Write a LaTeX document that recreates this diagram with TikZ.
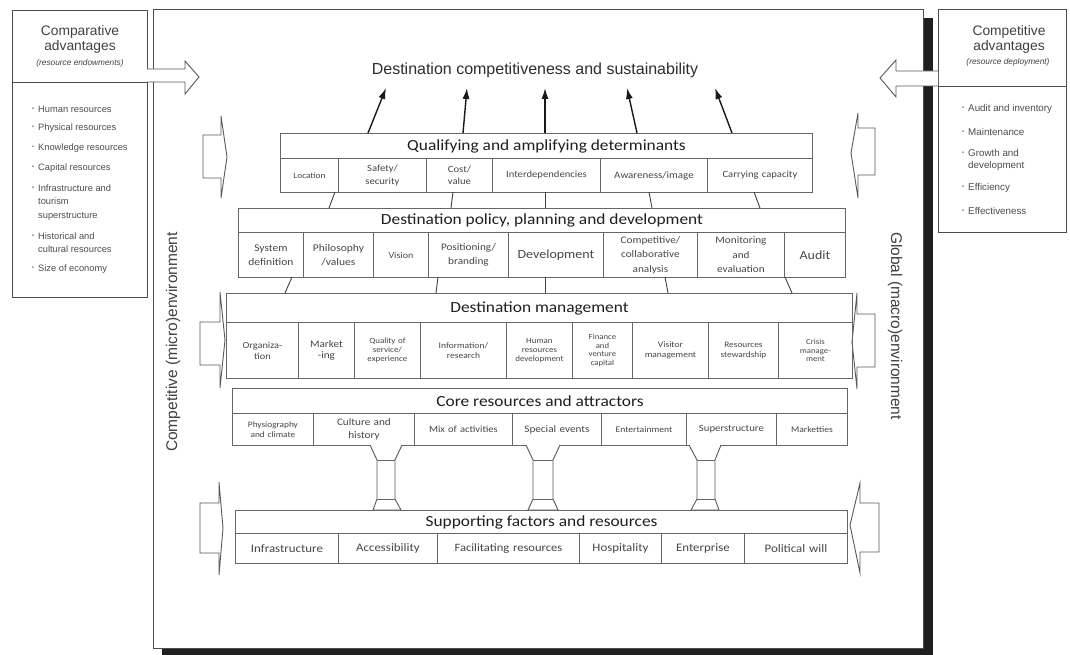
\documentclass[tikz,border=0pt]{standalone}
\usepackage{fontspec}
\usepackage{graphicx}
\setmainfont{Liberation Sans}
\newfontfamily\calfont[FakeStretch=1.12]{Carlito}
\usetikzlibrary{arrows.meta,calc}
\newcommand\fsz[2]{\fontsize{#1}{#2}\selectfont}
\newcommand\bul{\makebox[6pt][l]{\raisebox{0.35ex}{\fontsize{5.5}{5.5}\selectfont •}}}
% name, x0, x1, ytop, ybot, fontsize, baselineskip, text
\newcommand\cellat[8]{%
  \pgfmathsetmacro\cw{#3-#2}%
  \pgfmathsetmacro\ch{#5-#4}%
  \node[cell, minimum width=\cw pt, minimum height=\ch pt, text width=\cw pt,
        font=\calfont\fontsize{#6}{#7}\selectfont] (#1) at (#2,#4) {#8};}
% name, x0, x1, ytop, ybot, text
\newcommand\hdrat[6]{%
  \pgfmathsetmacro\cw{#3-#2}%
  \pgfmathsetmacro\ch{#5-#4}%
  \node[band, minimum width=\cw pt, minimum height=\ch pt] (#1) at (#2,#4) {#6};}
% side arrow: x0 (shaft end), x1 (head base), ys1, ys2, yh1, yh2, tipx, tipy
\newcommand\sidearrow[8]{%
  \draw[side] (#2,#3) -- (#1,#3) -- (#1,#4) -- (#2,#4) -- (#2,#6)
     .. controls ($(#2,#6)!0.5!(#7,#8)$) .. (#7,#8)
     .. controls ($(#2,#5)!0.5!(#7,#8)$) .. (#2,#5) -- cycle;}
\begin{document}
\begin{tikzpicture}[x=1pt,y=-1pt,
  frame/.style={draw=black!70, line width=0.9pt, inner sep=0pt, anchor=north west},
  band/.style={draw=black!60, line width=1pt, fill=white, inner sep=0pt, anchor=north west,
     font=\calfont\fsz{15.5}{17}, text=black!88},
  cell/.style={draw=black!60, line width=0.9pt, inner sep=0pt, anchor=north west,
     align=center, text=black!72},
  link/.style={draw=black!75, line width=0.9pt},
  uparrow/.style={draw=black!90, line width=1.4pt, -{Latex[length=11pt,width=7pt]}},
  side/.style={draw=black!65, line width=0.9pt, fill=white},
  listl/.style={anchor=west, inner sep=0pt, font=\fsz{9.3}{13.3}, text=black!70, align=left},
  listr/.style={anchor=west, inner sep=0pt, font=\fsz{9.8}{12}, text=black!70, align=left},
  outer/.style={text=black!75, inner sep=0pt}
]
\useasboundingbox (0,0) rectangle (1070,655);

% ---- main frame with shadow
\fill[black!88] (924,18) rectangle (933,655);
\fill[black!88] (162,648) rectangle (933,655);
\node[frame, fill=white, minimum width=770pt, minimum height=639pt] (main) at (153,9) {};

% ---- left box
\node[frame, minimum width=135pt, minimum height=287pt] (lbox) at (12,10) {};
\draw[frame] (12,82) -- (147,82);
\node[outer, font=\fsz{13.8}{15}, align=center] (ltitle) at (80,39) {Comparative\\advantages};
\node[outer, font=\itshape\fsz{8.3}{9}] (lsub) at (80,63) {(resource endowments)};
\node[listl] (l1) at (38,109) {\llap{\bul}Human resources};
\node[listl] (l2) at (38,128) {\llap{\bul}Physical resources};
\node[listl] (l3) at (38,148) {\llap{\bul}Knowledge resources};
\node[listl] (l4) at (38,168) {\llap{\bul}Capital resources};
\node[listl] (l5) at (38,202.5) {\llap{\bul}Infrastructure and\\tourism\\superstructure};
\node[listl] (l6) at (38,242.5) {\llap{\bul}Historical and\\cultural resources};
\node[listl] (l7) at (38,269) {\llap{\bul}Size of economy};

% ---- right box
\node[frame, minimum width=128pt, minimum height=223pt] (rbox) at (938,9) {};
\draw[frame] (938,86) -- (1066,86);
\node[outer, font=\fsz{13.8}{15}, align=center] (rtitle) at (1009,39) {Competitive\\advantages};
\node[outer, font=\itshape\fsz{8.3}{9}] (rsub) at (1008,62) {(resource deployment)};
\node[listr] (r1) at (968,109) {\llap{\bul}Audit and inventory};
\node[listr] (r2) at (968,132) {\llap{\bul}Maintenance};
\node[listr] (r3) at (968,160) {\llap{\bul}Growth and\\development};
\node[listr] (r4) at (968,188) {\llap{\bul}Efficiency};
\node[listr] (r5) at (968,211) {\llap{\bul}Effectiveness};

% ---- top hollow arrows
\draw[side] (147,69) -- (185,69) -- (185,61) -- (199,77) -- (185,94) -- (185,82) -- (147,82);
\draw[side] (938,71) -- (896,71) -- (896,60) -- (880,78) -- (896,97) -- (896,86) -- (938,86);

% ---- title and side labels
\node[outer, font=\fsz{16}{18}, text=black!82] (title) at (535,70)
  {Destination competitiveness and sustainability};
\node[outer, rotate=90, font=\fsz{15.5}{17}] (micro) at (173,342) {Competitive (micro)environment};
\node[outer, rotate=-90, font=\fsz{15.5}{17}] (macro) at (895,326) {Global (macro)environment};

% ---- side arrows
\sidearrow{203}{221}{135}{178}{116}{198}{227}{157}
\sidearrow{200}{220}{322}{365}{292}{388}{225}{340}
\sidearrow{200}{219}{503}{553}{482}{575}{223}{528}
\sidearrow{875}{858}{128}{175}{113}{198}{851}{153}
\sidearrow{875}{857}{314}{367}{293}{389}{852}{342}
\sidearrow{879}{860}{503}{552}{483}{573}{850}{525}

% ---- Qualifying and amplifying determinants
\hdrat{qh}{280}{812}{133}{158}{Qualifying and amplifying determinants}
\cellat{q1}{280}{338}{158}{192}{8.3}{12}{Location}
\cellat{q2}{338}{426}{158}{192}{9.5}{12.5}{Safety/\\security}
\cellat{q3}{426}{492}{158}{192}{9.5}{12.5}{Cost/\\value}
\cellat{q4}{492}{600}{158}{192}{9.5}{12}{Interdependencies}
\cellat{q5}{600}{707}{158}{192}{9.8}{12}{Awareness/image}
\cellat{q6}{707}{812}{158}{192}{9.5}{12}{Carrying capacity}

% ---- Destination policy, planning and development
\hdrat{ph}{238}{845}{208}{232}{Destination policy, planning and development}
\cellat{p1}{238}{303}{232}{277}{10.3}{14}{System\\definition}
\cellat{p2}{303}{373}{232}{277}{10.3}{14}{Philosophy\\/values}
\cellat{p3}{373}{428}{232}{277}{9}{12}{Vision}
\cellat{p4}{428}{508}{232}{277}{10}{14}{Positioning/\\branding}
\cellat{p5}{508}{603}{232}{277}{12.5}{14}{Development}
\cellat{p6}{603}{697}{232}{277}{10}{14.5}{Competitive/\\collaborative\\analysis}
\cellat{p7}{697}{784}{232}{277}{10}{14.5}{Monitoring\\and\\evaluation}
\cellat{p8}{784}{845}{232}{277}{12.5}{14}{Audit}

% ---- Destination management
\hdrat{dh}{226}{852}{293}{322}{Destination management}
\cellat{d1}{226}{298}{322}{378}{9.2}{11}{Organiza-\\tion}
\cellat{d2}{298}{354}{322}{378}{10}{11}{Market\\-ing}
\cellat{d3}{354}{420}{322}{378}{8}{8.8}{Quality of\\service/\\experience}
\cellat{d4}{420}{506}{322}{378}{8.5}{9.5}{Information/\\research}
\cellat{d5}{506}{572}{322}{378}{8}{8.8}{Human\\resources\\development}
\cellat{d6}{572}{632}{322}{378}{7.8}{8.6}{Finance\\and\\venture\\capital}
\cellat{d7}{632}{708}{322}{378}{8.5}{10}{Visitor\\management}
\cellat{d8}{708}{778}{322}{378}{8.3}{10}{Resources\\stewardship}
\cellat{d9}{778}{852}{322}{378}{7.8}{8.8}{Crisis\\manage-\\ment}

% ---- Core resources and attractors
\hdrat{ch}{232}{847}{388}{413}{Core resources and attractors}
\cellat{c1}{232}{313}{413}{445}{8.3}{10}{Physiography\\and climate}
\cellat{c2}{313}{414}{413}{445}{10}{13}{Culture and\\history}
\cellat{c3}{414}{512}{413}{445}{9.4}{12}{Mix of activities}
\cellat{c4}{512}{601}{413}{445}{10}{12}{Special events}
\cellat{c5}{601}{686}{413}{445}{8.6}{12}{Entertainment}
\cellat{c6}{686}{776}{413}{445}{9.6}{12}{Superstructure}
\cellat{c7}{776}{847}{413}{445}{8.6}{12}{Marketties}

% ---- Supporting factors and resources
\hdrat{sh}{235}{847}{510}{533}{Supporting factors and resources}
\cellat{s1}{235}{338}{533}{563}{11.5}{13}{Infrastructure}
\cellat{s2}{338}{437}{533}{563}{11.5}{13}{Accessibility}
\cellat{s3}{437}{579}{533}{563}{11.2}{13}{Facilitating resources}
\cellat{s4}{579}{661}{533}{563}{11.5}{13}{Hospitality}
\cellat{s5}{661}{744}{533}{563}{11.5}{13}{Enterprise}
\cellat{s6}{744}{847}{533}{563}{11.5}{13}{Political will}

% ---- arrows up to the title
\foreach \i/\bx/\tx in {1/368/386, 2/463/467, 3/545/545, 4/637/627, 5/732/715}{
  \coordinate (ub\i) at (\bx,133);
  \coordinate (ut\i) at (\tx,88);
  \draw[uparrow] (ub\i) -- (ut\i);
}

% ---- links qualifying -> policy
\foreach \i/\a/\b in {1/335/329, 2/453/451, 3/545/545, 4/649/652, 5/754/760}{
  \coordinate (qa\i) at (\a,192);
  \coordinate (pa\i) at (\b,208);
  \draw[link] (qa\i) -- (pa\i);
}
% ---- links policy -> management
\foreach \i/\a/\b in {1/292/285, 2/438/436, 3/545/545, 4/665/668, 5/785/792}{
  \coordinate (pb\i) at (\a,277);
  \coordinate (db\i) at (\b,293);
  \draw[link] (pb\i) -- (db\i);
}

% ---- pillars core -> supporting
\foreach \i/\wl/\wr/\nl/\nr/\bl/\br in {1/370/402/377/395/373/401, 2/526/560/533/553/528/558, 3/689/721/697/715/691/719}{
  \coordinate (pt\i) at ({(\wl+\wr)/2},445);
  \coordinate (pbt\i) at ({(\bl+\br)/2},510);
  \draw[side] (\wl,445) -- (\nl,460) -- (\nl,499) -- (\bl,510) -- (\br,510) -- (\nr,499) -- (\nr,460) -- (\wr,445);
  \draw[link, draw=black!60] (\nl,460) -- (\nr,460) (\nl,499) -- (\nr,499);
}
\end{tikzpicture}
\end{document}
